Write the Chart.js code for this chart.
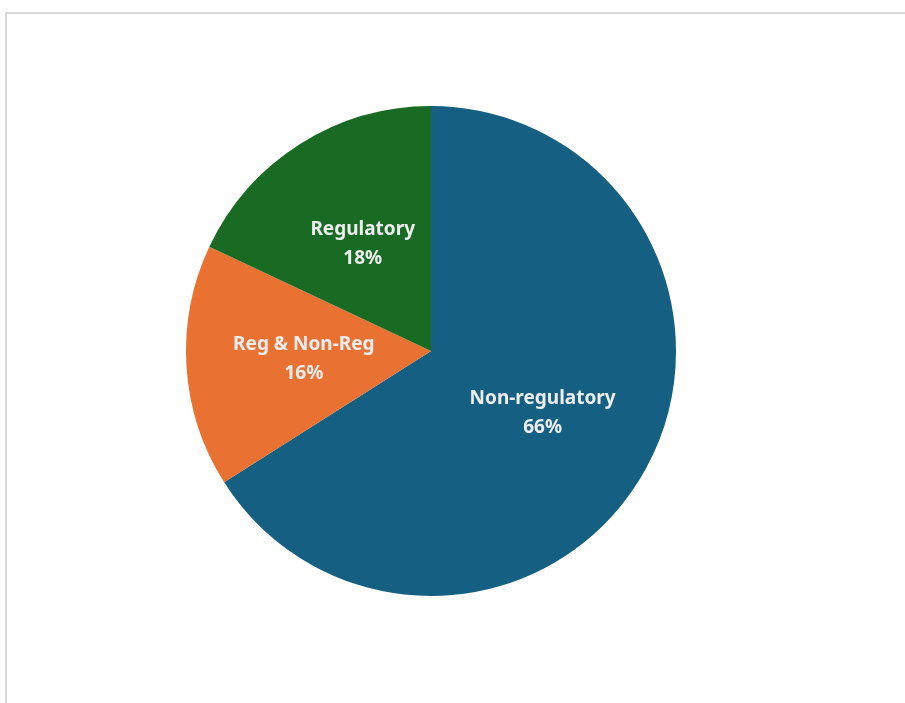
<!DOCTYPE html>
<html>
<head>
<meta charset="utf-8">
<script src="https://cdn.jsdelivr.net/npm/chart.js@4.4.1/dist/chart.umd.min.js"></script>
<style>
  html, body { margin: 0; padding: 0; background: #fff; overflow: hidden; }
  #frame { position: absolute; left: 5px; top: 12px; width: 898px; height: 720px;
           border-top: 2px solid #d9d9d9; border-left: 2px solid #d9d9d9; border-right: 2px solid #d9d9d9; }
  #pie { position: absolute; left: 0; top: 0; }
</style>
</head>
<body>
<div id="frame"></div>
<canvas id="pie" width="905" height="703"></canvas>
<script>
// 値（時計回り、12時から）
const labels = ["Non-regulatory", "Reg & Non-Reg", "Regulatory"];
const shares = [66, 16, 18];
const colors = ["#156082", "#E97132", "#196B24"];

// スライス内ラベル
const sliceLabels = {
  id: "sliceLabels",
  afterDatasetsDraw(chart) {
    const { ctx } = chart;
    const meta = chart.getDatasetMeta(0);
    ctx.save();
    ctx.fillStyle = "#eeeeee";
    ctx.font = "bold 19px 'Noto Sans', sans-serif";
    ctx.textAlign = "center";
    ctx.textBaseline = "middle";
    meta.data.forEach((arc, i) => {
      const p = arc.getProps(["x", "y", "startAngle", "endAngle", "outerRadius"], true);
      const mid = (p.startAngle + p.endAngle) / 2;
      const r = p.outerRadius * 0.52;
      const x = p.x + Math.cos(mid) * r;
      const y = p.y + Math.sin(mid) * r;
      ctx.fillText(labels[i], x, y - 14);
      ctx.fillText(shares[i] + "%", x, y + 15);
    });
    ctx.restore();
  }
};

new Chart(document.getElementById("pie"), {
  type: "pie",
  data: {
    labels,
    datasets: [{ data: shares, backgroundColor: colors, borderWidth: 0 }]
  },
  options: {
    responsive: false,
    animation: false,
    layout: { padding: { left: 186, right: 229, top: 106, bottom: 107 } },
    plugins: { legend: { display: false }, tooltip: { enabled: false } }
  },
  plugins: [sliceLabels]
});
</script>
</body>
</html>
